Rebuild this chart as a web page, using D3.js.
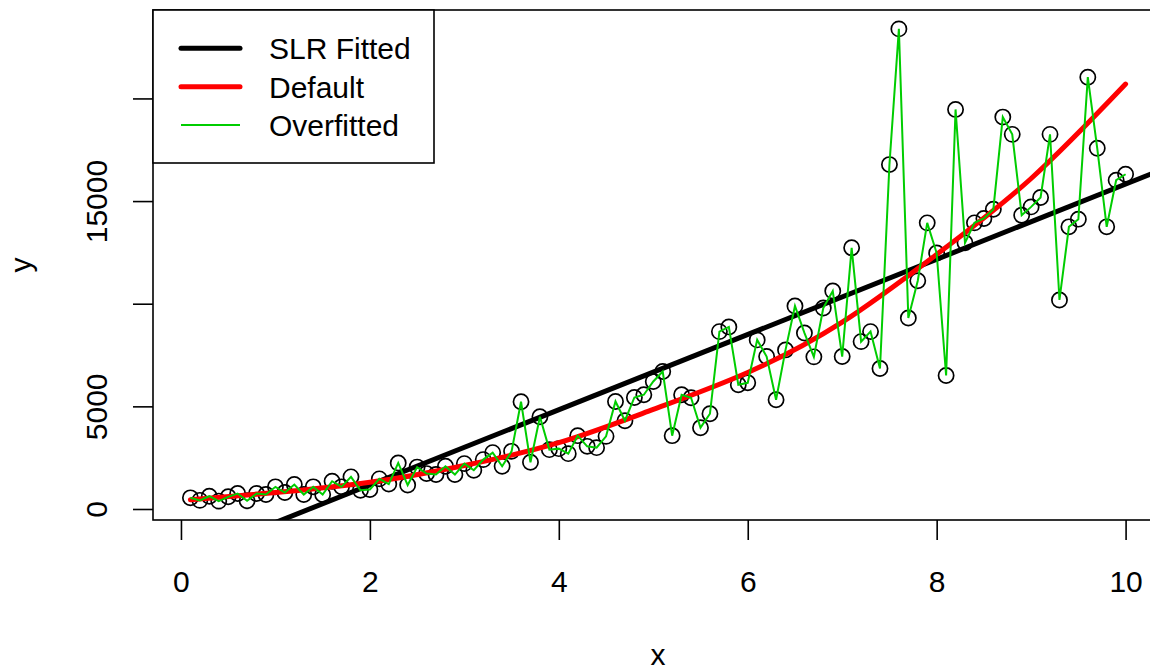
<!DOCTYPE html>
<html>
<head>
<meta charset="utf-8">
<script src="https://cdn.jsdelivr.net/npm/d3@7"></script>
<style>
    body { margin: 0; background: #fff; }
    text { font-family: "Liberation Sans", Arial, sans-serif; fill: #000; }
</style>
</head>
<body>
<div id="chart"></div>
<script>
var xValues = [0.1, 0.2, 0.3, 0.4, 0.5, 0.6, 0.7, 0.8, 0.9, 1.0,
    1.1, 1.2, 1.3, 1.4, 1.5, 1.6, 1.7, 1.8, 1.9, 2.0,
    2.1, 2.2, 2.3, 2.4, 2.5, 2.6, 2.7, 2.8, 2.9, 3.0,
    3.1, 3.2, 3.3, 3.4, 3.5, 3.6, 3.7, 3.8, 3.9, 4.0,
    4.1, 4.2, 4.3, 4.4, 4.5, 4.6, 4.7, 4.8, 4.9, 5.0,
    5.1, 5.2, 5.3, 5.4, 5.5, 5.6, 5.7, 5.8, 5.9, 6.0,
    6.1, 6.2, 6.3, 6.4, 6.5, 6.6, 6.7, 6.8, 6.9, 7.0,
    7.1, 7.2, 7.3, 7.4, 7.5, 7.6, 7.7, 7.8, 7.9, 8.0,
    8.1, 8.2, 8.3, 8.4, 8.5, 8.6, 8.7, 8.8, 8.9, 9.0,
    9.1, 9.2, 9.3, 9.4, 9.5, 9.6, 9.7, 9.8, 9.9, 10.0];

var yValues = [544, 420, 622, 384, 593, 753, 400, 753, 705, 1079,
    802, 1191, 705, 1079, 705, 1351, 1079, 1565, 914, 950,
    1468, 1215, 2245, 1166, 2041, 1725, 1677, 2080, 1677, 2211,
    1886, 2406, 2746, 2080, 2809, 5224, 2274, 4495, 2892, 2940,
    2697, 3572, 3052, 2989, 3538, 5239, 4301, 5433, 5565, 6211,
    6697, 3572, 5565, 5419, 3961, 4641, 8641, 8870, 6051, 6148,
    8238, 7425, 5322, 7750, 9890, 8577, 7411, 9793, 10619, 7425,
    12723, 8154, 8641, 6843, 16778, 23388, 9307, 11120, 13939, 12467,
    6503, 19465, 12967, 13939, 14153, 14605, 19091, 18250, 14313, 14717,
    15174, 18250, 10182, 13745, 14119, 21035, 17570, 13745, 16015, 16306];

// "Default" fit
var defaultX = [0.1, 1, 2, 3, 4, 5, 6, 7, 8, 9, 10];
var defaultY = [450, 800, 1300, 2120, 3230, 4850, 6650, 9100, 12400, 16100, 20700];

var xTicks = [0, 2, 4, 6, 8, 10];
var yTicks = [0, 5000, 10000, 15000, 20000];
var yTickLabels = ["0", "5000", "", "15000", ""];

var legendLabels = ["SLR Fitted", "Default", "Overfitted"];
var legendColors = ["#000000", "#ff0000", "#00cd00"];
var legendWidths = [5, 5, 2];

function drawChart(parentId) {

    var width = 1150;
    var height = 671;
    var left = 153, right = 1163, top = 10, bottom = 520;
    var fontSize = 30;

    var svg = d3.select('#' + parentId).append('svg')
        .attr('width', width)
        .attr('height', height);

    // R style 4% padding round the data range
    function padded(arr) {
        var e = d3.extent(arr);
        var p = (e[1] - e[0]) * 0.04;
        return [e[0] - p, e[1] + p];
    }

    var xScale = d3.scaleLinear().domain(padded(xValues)).range([left, right]);
    var yScale = d3.scaleLinear().domain(padded(yValues)).range([bottom, top]);

    // least squares line for the SLR fit
    var mx = d3.mean(xValues), my = d3.mean(yValues);
    var sxy = d3.sum(xValues, function (d, i) { return (d - mx) * (yValues[i] - my); });
    var sxx = d3.sum(xValues, function (d) { return (d - mx) * (d - mx); });
    var slope = sxy / sxx;
    var intercept = my - slope * mx;

    svg.append('defs').append('clipPath')
        .attr('id', 'plot-clip')
        .append('rect')
        .attr('x', left).attr('y', top)
        .attr('width', right - left).attr('height', bottom - top);

    // axes
    var xAxis = d3.axisBottom(xScale).tickValues(xTicks).tickSize(20).tickSizeOuter(0);
    var xg = svg.append('g')
        .attr('transform', 'translate(0,' + bottom + ')')
        .call(xAxis);
    xg.selectAll('text')
        .attr('y', 72).attr('dy', null)
        .style('font-size', fontSize + 'px');

    var yAxis = d3.axisLeft(yScale).tickValues(yTicks).tickSize(20).tickSizeOuter(0)
        .tickFormat(function (d, i) { return yTickLabels[i]; });
    var yg = svg.append('g')
        .attr('transform', 'translate(' + left + ',0)')
        .call(yAxis);
    yg.selectAll('text')
        .attr('x', null).attr('dy', null)
        .attr('text-anchor', 'middle')
        .attr('transform', 'translate(-46,0) rotate(-90)')
        .style('font-size', fontSize + 'px');

    svg.selectAll('.domain').remove();
    svg.selectAll('.tick line').style('stroke', '#000').style('stroke-width', 1.6);

    // axis titles
    svg.append('text')
        .attr('x', (left + right) / 2).attr('y', 665)
        .attr('text-anchor', 'middle')
        .style('font-size', fontSize + 'px')
        .text('x');
    svg.append('text')
        .attr('transform', 'translate(31,' + (top + bottom) / 2 + ') rotate(-90)')
        .attr('text-anchor', 'middle')
        .style('font-size', fontSize + 'px')
        .text('y');

    // points
    svg.append('g').selectAll('circle')
        .data(xValues)
        .enter().append('circle')
        .attr('cx', function (d) { return xScale(d); })
        .attr('cy', function (d, i) { return yScale(yValues[i]); })
        .attr('r', 7.6)
        .style('fill', 'none')
        .style('stroke', '#000')
        .style('stroke-width', 1.7);

    var lines = svg.append('g').attr('clip-path', 'url(#plot-clip)');

    // SLR line across the plot
    var x0 = xScale.domain()[0], x1 = xScale.domain()[1];
    lines.append('line')
        .attr('x1', xScale(x0)).attr('y1', yScale(intercept + slope * x0))
        .attr('x2', xScale(x1)).attr('y2', yScale(intercept + slope * x1))
        .style('stroke', legendColors[0])
        .style('stroke-width', legendWidths[0]);

    var defaultLine = d3.line()
        .x(function (d) { return xScale(d); })
        .y(function (d, i) { return yScale(defaultY[i]); })
        .curve(d3.curveNatural);
    lines.append('path')
        .attr('d', defaultLine(defaultX))
        .style('fill', 'none')
        .style('stroke', legendColors[1])
        .style('stroke-width', legendWidths[1])
        .style('stroke-linecap', 'round');

    var overLine = d3.line()
        .x(function (d) { return xScale(d); })
        .y(function (d, i) { return yScale(yValues[i]); });
    lines.append('path')
        .attr('d', overLine(xValues))
        .style('fill', 'none')
        .style('stroke', legendColors[2])
        .style('stroke-width', legendWidths[2]);

    // plot box
    svg.append('rect')
        .attr('x', left).attr('y', top)
        .attr('width', right - left).attr('height', bottom - top)
        .style('fill', 'none')
        .style('stroke', '#000')
        .style('stroke-width', 1.6);

    // legend
    var legend = svg.append('g');
    legend.append('rect')
        .attr('x', left).attr('y', top)
        .attr('width', 281).attr('height', 153)
        .style('fill', '#fff')
        .style('stroke', '#000')
        .style('stroke-width', 1.6);

    var item = legend.selectAll('.item')
        .data(legendLabels)
        .enter().append('g')
        .attr('transform', function (d, i) { return 'translate(0,' + (48.3 + i * 38.4) + ')'; });
    item.append('line')
        .attr('x1', 181).attr('x2', 240)
        .style('stroke', function (d, i) { return legendColors[i]; })
        .style('stroke-width', function (d, i) { return legendWidths[i]; })
        .style('stroke-linecap', function (d, i) { return i < 2 ? 'round' : 'butt'; });
    item.append('text')
        .attr('x', 269).attr('y', 11)
        .style('font-size', fontSize + 'px')
        .text(function (d) { return d; });
}

drawChart('chart');
</script>
</body>
</html>
